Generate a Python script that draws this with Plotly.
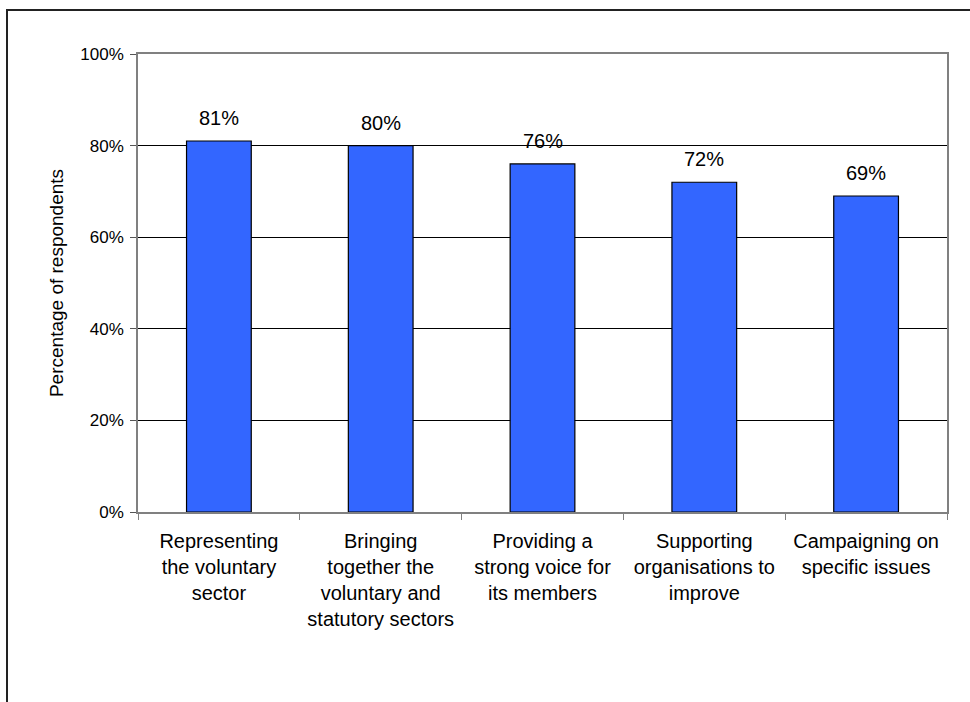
import plotly.graph_objects as go

categories = [
    "Representing<br>the voluntary<br>sector",
    "Bringing<br>together the<br>voluntary and<br>statutory sectors",
    "Providing a<br>strong voice for<br>its members",
    "Supporting<br>organisations to<br>improve",
    "Campaigning on<br>specific issues",
]
values = [81, 80, 76, 72, 69]
value_labels = [f"{v}%" for v in values]
y_ticks = [0, 20, 40, 60, 80, 100]
y_tick_labels = [f"{t}%" for t in y_ticks]

FONT = "Arial, Liberation Sans, sans-serif"
W, H = 970, 702
L, R, T, B = 138, 23, 54, 190
pw, ph = W - L - R, H - T - B

def px_x(x):
    return (x - L) / pw

def px_y(y):
    return (H - B - y) / ph

fig = go.Figure()
fig.add_trace(go.Bar(
    x=categories, y=values,
    marker=dict(color="#3366FF", line=dict(color="#000000", width=1.2)),
    width=0.4,
    hoverinfo="skip",
))

for c, v, t in zip(categories, values, value_labels):
    fig.add_annotation(x=c, y=v, text=t, showarrow=False, yanchor="middle",
                       yshift=23, font=dict(family=FONT, size=20, color="#000000"))

# outer frame
fig.add_shape(type="line", xref="paper", yref="paper",
              x0=px_x(6), x1=px_x(975), y0=px_y(10), y1=px_y(10),
              line=dict(color="#222222", width=2))
fig.add_shape(type="line", xref="paper", yref="paper",
              x0=px_x(7), x1=px_x(7), y0=px_y(10), y1=px_y(710),
              line=dict(color="#222222", width=2))

fig.update_layout(
    width=W, height=H,
    margin=dict(l=L, r=R, t=T, b=B, pad=0),
    paper_bgcolor="white", plot_bgcolor="white",
    showlegend=False,
    bargap=0.6,
    font=dict(family=FONT, color="#000000"),
)
fig.update_xaxes(
    type="category",
    tickson="boundaries", ticks="outside", ticklen=6, tickcolor="#808080",
    showline=True, linecolor="#808080", linewidth=1.5, mirror=True,
    showgrid=False,
    ticklabelstandoff=10,
    tickfont=dict(family=FONT, size=20, color="#000000"),
)
fig.update_yaxes(
    range=[0, 100], tickvals=y_ticks, ticktext=y_tick_labels,
    ticks="outside", ticklen=6, tickcolor="#555555",
    showline=True, linecolor="#808080", linewidth=1.5, mirror=True,
    showgrid=True, gridcolor="#000000", gridwidth=1,
    zeroline=False,
    ticklabelstandoff=3,
    tickfont=dict(family=FONT, size=17, color="#000000"),
    title=dict(text="Percentage of respondents", standoff=12,
               font=dict(family=FONT, size=19, color="#000000")),
)

fig.write_html("out.html")
